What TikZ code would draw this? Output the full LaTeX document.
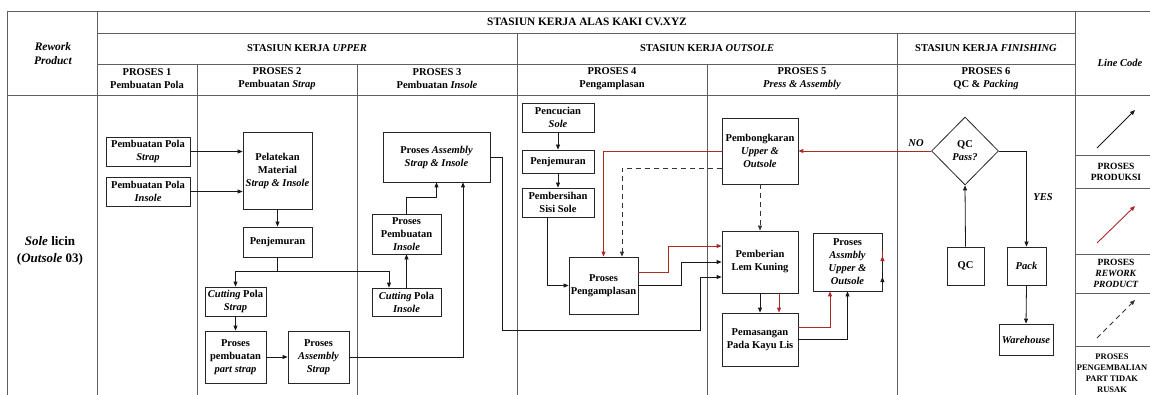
\documentclass[tikz,border=0pt]{standalone}
\usepackage{fontspec}
\setmainfont{Liberation Serif}
\usetikzlibrary{arrows.meta,calc,shapes.geometric}

\definecolor{rwred}{RGB}{175,40,40}
\definecolor{gridline}{RGB}{95,95,95}

\begin{document}
\begin{tikzpicture}[x=1pt,y=-1pt,
  every node/.style={font=\bfseries\fontsize{10.5}{13}\selectfont},
  grid/.style={draw=gridline, line width=0.9pt},
  box/.style={draw=black!85, line width=0.8pt, align=center, inner sep=1pt},
  legendtxt/.style={align=center, font=\bfseries\fontsize{9.5}{11}\selectfont},
  arr/.style={draw=black!90, line width=0.8pt, -{Triangle[length=5pt,width=4pt]}},
  redarr/.style={draw=rwred, line width=0.9pt, -{Triangle[length=5pt,width=4pt]}},
  dasharr/.style={draw=black!80, line width=0.8pt, dash pattern=on 5pt off 4pt, -{Triangle[length=5pt,width=4pt]}}
]
\useasboundingbox (0,0) rectangle (1150,395);
\clip (0,0) rectangle (1150,395);

% ---- table frame ----
\draw[grid] (7,11) -- (1160,11);
\draw[grid] (97,33) -- (1075,33);
\draw[grid] (97,64) -- (1075,64);
\draw[grid] (7,95) -- (1160,95);
\draw[grid] (7,11) -- (7,400);
\draw[grid] (97,11) -- (97,400);
\draw[grid] (197,64) -- (197,400);
\draw[grid] (357,64) -- (357,400);
\draw[grid] (517,33) -- (517,400);
\draw[grid] (707,64) -- (707,400);
\draw[grid] (897,33) -- (897,400);
\draw[grid] (1075,11) -- (1075,400);
\draw[grid] (1075,155) -- (1160,155);
\draw[grid] (1075,188) -- (1160,188);
\draw[grid] (1075,254) -- (1160,254);
\draw[grid] (1075,293) -- (1160,293);
\draw[grid] (1075,346) -- (1160,346);

% ---- header texts ----
\node[align=center, font=\bfseries\fontsize{11.5}{14}\selectfont] (hrework) at (53,54) {\textit{Rework}\\\textit{Product}};
\node[font=\bfseries\fontsize{11.3}{13}\selectfont] (hmain) at (587,22) {STASIUN KERJA ALAS KAKI CV.XYZ};
\node (hupper) at (307,48) {STASIUN KERJA \textit{UPPER}};
\node (houtsole) at (707,48) {STASIUN KERJA \textit{OUTSOLE}};
\node (hfinish) at (986,48) {STASIUN KERJA \textit{FINISHING}};
\node (hline) at (1120,63) {\textit{Line Code}};
\node[align=center] (p1) at (147,79) {PROSES 1\\Pembuatan Pola};
\node[align=center] (p2) at (277,79) {PROSES 2\\Pembuatan \textit{Strap}};
\node[align=center] (p3) at (437,79) {PROSES 3\\Pembuatan \textit{Insole}};
\node[align=center] (p4) at (612,79) {PROSES 4\\Pengamplasan};
\node[align=center] (p5) at (802,79) {PROSES 5\\\textit{Press \& Assembly}};
\node[align=center] (p6) at (986,79) {PROSES 6\\QC \& \textit{Packing}};
\node[align=center, font=\bfseries\fontsize{13}{16.5}\selectfont] (prod) at (50,251) {\textit{Sole} licin\\(\textit{Outsole} 03)};

% ---- process boxes ----
\node[box, minimum width=84pt, minimum height=29pt] (polaStrap) at (148,151.5) {Pembuatan Pola\\\textit{Strap}};
\node[box, minimum width=84pt, minimum height=29pt] (polaInsole) at (148,191.5) {Pembuatan Pola\\\textit{Insole}};
\node[box, minimum width=69pt, minimum height=77pt] (pelatekan) at (277.5,170.5) {Pelatekan\\Material\\\textit{Strap \& Insole}};
\node[box, minimum width=69pt, minimum height=30pt] (jemurA) at (277.5,242) {Penjemuran};
\node[box, minimum width=61pt, minimum height=29pt] (cutStrap) at (235.5,301.5) {\textit{Cutting} Pola\\\textit{Strap}};
\node[box, minimum width=61pt, minimum height=52pt] (partStrap) at (235.5,357) {Proses\\pembuatan\\\textit{part strap}};
\node[box, minimum width=61pt, minimum height=52pt] (asmStrap) at (318.5,357) {Proses\\\textit{Assembly}\\\textit{Strap}};
\node[box, minimum width=69pt, minimum height=28pt] (cutInsole) at (406.5,302) {\textit{Cutting} Pola\\\textit{Insole}};
\node[box, minimum width=69pt, minimum height=40pt] (buatInsole) at (406.5,234) {Proses\\Pembuatan\\\textit{Insole}};
\node[box, minimum width=107pt, minimum height=50pt] (asmSI) at (436.5,157) {Proses \textit{Assembly}\\\textit{Strap \& Insole}};
\node[box, minimum width=72pt, minimum height=29pt] (cuci) at (558,117.5) {Pencucian\\\textit{Sole}};
\node[box, minimum width=72pt, minimum height=23pt] (jemurB) at (558,161.5) {Penjemuran};
\node[box, minimum width=72pt, minimum height=29pt] (bersih) at (558,202.5) {Pembersihan\\Sisi Sole};
\node[box, minimum width=69pt, minimum height=57pt] (amplas) at (603.5,285.5) {Proses\\Pengamplasan};
\node[box, minimum width=76pt, minimum height=66pt] (bongkar) at (760,151) {Pembongkaran\\\textit{Upper \&}\\\textit{Outsole}};
\node[box, minimum width=76pt, minimum height=62pt] (lem) at (760,262) {Pemberian\\Lem Kuning};
\node[box, minimum width=76pt, minimum height=53pt] (pasang) at (760,339.5) {Pemasangan\\Pada Kayu Lis};
\node[box, minimum width=69pt, minimum height=58pt] (asmUO) at (847.5,262) {Proses\\\textit{Assmbly}\\\textit{Upper \&}\\\textit{Outsole}};
\node[box, diamond, inner sep=0pt, minimum width=67pt, minimum height=68pt] (qcp) at (965,151) {QC\\\textit{Pass?}};
\node[box, minimum width=37pt, minimum height=38pt] (qc) at (965.5,266) {QC};
\node[box, minimum width=39pt, minimum height=38pt] (pack) at (1026.5,266) {\textit{Pack}};
\node[box, minimum width=54pt, minimum height=31pt] (wh) at (1026,339.5) {\textit{Warehouse}};

% ---- waypoints ----
\coordinate (j1) at (277.5,271);
\coordinate (c1) at (502,330);
\coordinate (c2) at (700,277);
\coordinate (k1) at (668,260);
\coordinate (k2) at (681,274);

% ---- upper station flow ----
\draw[arr] (polaStrap.east) -- (polaStrap.east -| pelatekan.west);
\draw[arr] (polaInsole.east) -- (polaInsole.east -| pelatekan.west);
\draw[arr] (pelatekan.south) -- (jemurA.north);
\draw[arr] (jemurA.south) -- (j1) -| (cutStrap.north);
\draw[arr] (j1) -| ($(cutInsole.north)+(-17.5,0)$);
\draw[arr] (cutStrap.south) -- (partStrap.north);
\draw[arr] (partStrap.east) -- (asmStrap.west);
\draw[arr] (asmStrap.east) -| ($(asmSI.south)+(26.5,0)$);
\draw[arr] (cutInsole.north) -- (buatInsole.south);
\draw[arr] (buatInsole.north) -- ++(0,-16) -| (asmSI.south);
\draw[arr] (asmSI.east) -| (c1) -| (c2) -- (c2 -| lem.west);

% ---- outsole station flow ----
\draw[arr] (cuci.south) -- (jemurB.north);
\draw[arr] (jemurB.south) -- (bersih.north);
\draw[arr] ($(bersih.south)+(-11,0)$) |- (amplas.west);
\draw[redarr] (bongkar.west) -| (amplas.north);
\draw[dasharr] ($(bongkar.west)+(0,17)$) -| ($(amplas.north)+(18.5,0)$);
\draw[redarr] ($(amplas.east)+(0,-13.5)$) -| (k1) |- ($(lem.west)+(0,-16)$);
\draw[arr] (amplas.east) -| (k2) |- (lem.west);
\draw[dasharr] (bongkar.south) -- (lem.north);
\draw[arr] (lem.south) -- (pasang.north);
\draw[redarr] ($(lem.south)+(19,0)$) -- ($(pasang.north)+(19,0)$);
\draw[redarr] ($(pasang.east)+(0,-12.5)$) -| ($(asmUO.south)+(-17.5,0)$);
\draw[arr] (pasang.east) -| (asmUO.south);

% ---- finishing station flow ----
\draw[redarr] ($(asmUO.east)+(0,-6)$) -- ($(asmUO.east)+(0,-6)$ -| qc.west);
\draw[arr] ($(asmUO.east)+(0,15)$) -- ($(asmUO.east)+(0,15)$ -| qc.west);
\draw[arr] (qc.north) -- (qcp.south);
\draw[redarr] (qcp.west) -- (bongkar.east);
\draw[arr] (qcp.east) -| (pack.north);
\draw[arr] (pack.south) -- (wh.north);
\node (no) at (916,143) {\textit{NO}};
\node (yes) at (1043,197) {\textit{YES}};

% ---- line code legend ----
\coordinate (la1) at (1097,148); \coordinate (la2) at (1135,110);
\coordinate (lb1) at (1097,243); \coordinate (lb2) at (1135,206);
\coordinate (lc1) at (1097,338); \coordinate (lc2) at (1135,300);
\draw[arr] (la1) -- (la2);
\draw[redarr] (lb1) -- (lb2);
\draw[dasharr] (lc1) -- (lc2);
\node[legendtxt] (lgA) at (1116,171.5) {PROSES\\PRODUKSI};
\node[legendtxt] (lgB) at (1116,273) {PROSES\\\textit{REWORK}\\\textit{PRODUCT}};
\node[legendtxt, font=\bfseries\fontsize{8.5}{11}\selectfont] (lgC) at (1112,373.5) {PROSES\\PENGEMBALIAN\\PART TIDAK\\RUSAK};
\end{tikzpicture}
\end{document}
